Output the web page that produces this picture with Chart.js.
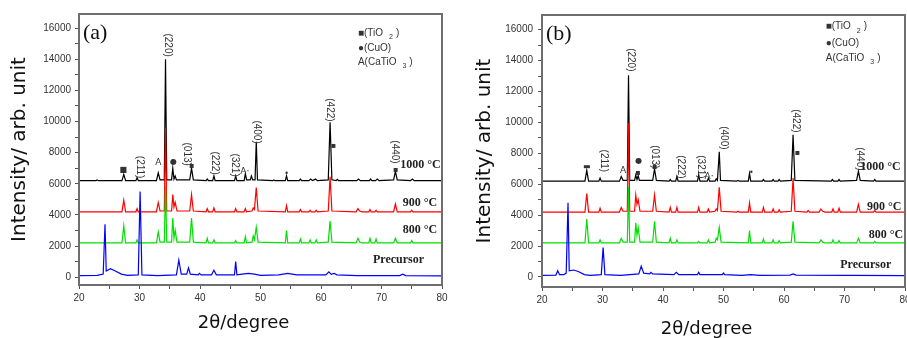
<!DOCTYPE html>
<html>
<head>
<meta charset="utf-8">
<script src="https://cdn.jsdelivr.net/npm/chart.js@4.4.0/dist/chart.umd.min.js"></script>
<style>
  body { margin: 0; background: #fff; width: 907px; height: 338px; overflow: hidden; position: relative; }
  .panel { position: absolute; top: 0; height: 338px; }
  #pa { left: 0; width: 453px; }
  #pb { left: 453px; width: 454px; }
</style>
</head>
<body>
<div class="panel" id="pa"><canvas id="chartA"></canvas></div>
<div class="panel" id="pb"><canvas id="chartB"></canvas></div>
<script>
// 2θ / intensity pairs, panel (a)
const a1000 = [[20,6200],[22.8,6200],[23,6250],[23.2,6200],[27.1,6200],[27.4,6600],[27.7,6200],
  [29.4,6200],[29.6,6400],[29.8,6200],[32.8,6200],[33.1,6700],[33.4,6250],[34.1,6250],[34.3,14000],[34.5,6250],
  [35.3,6250],[35.5,7000],[35.7,6300],[35.9,6500],[36.1,6250],[38.3,6250],[38.6,7000],[38.9,6250],
  [41,6200],[41.2,6300],[41.4,6200],[42.1,6200],[42.3,6500],[42.5,6200],[45.7,6200],[45.9,6500],[46.1,6200],
  [47.3,6200],[47.5,6650],[47.7,6250],[48.3,6250],[48.5,6500],[48.7,6250],[49.1,6250],[49.3,8700],[49.5,6250],
  [52,6200],[52.2,6250],[52.4,6200],[54.1,6200],[54.3,6500],[54.5,6200],[56.4,6200],[56.6,6300],[56.8,6200],
  [58,6200],[58.3,6300],[58.6,6200],[59.1,6300],[59.4,6200],[61.2,6250],[61.5,9950],[61.8,6250],
  [62.5,6200],[62.7,6280],[62.9,6200],[65.9,6200],[66.2,6300],[66.5,6200],[68,6200],[68.2,6300],[68.4,6200],
  [69,6200],[69.3,6300],[69.6,6200],[72,6250],[72.3,6800],[72.6,6250],[74.8,6200],[75.1,6300],[75.4,6200],[80,6200]];
const a900 = [[20,4200],[27.1,4200],[27.4,4950],[27.7,4200],[29.4,4200],[29.6,4400],[29.8,4200],
  [32.8,4200],[33.1,4800],[33.4,4250],[34.1,4250],[34.3,9600],[34.5,4250],[35.3,4250],[35.5,5300],[35.7,4500],
  [35.9,4800],[36.2,4250],[38.3,4250],[38.6,5300],[38.9,4250],[41,4200],[41.2,4400],[41.4,4200],
  [42.1,4200],[42.3,4450],[42.5,4200],[45.7,4200],[45.9,4400],[46.1,4200],[47.3,4200],[47.5,4400],[47.7,4200],
  [48.6,4250],[48.8,4450],[49,4350],[49.3,5750],[49.6,4250],[54.1,4200],[54.3,4600],[54.5,4200],
  [56.4,4200],[56.6,4350],[56.8,4200],[58,4200],[58.2,4300],[58.4,4200],[59,4200],[59.2,4300],[59.4,4200],
  [61.2,4250],[61.5,6450],[61.8,4250],[65.8,4200],[66.1,4400],[66.4,4250],[66.8,4200],
  [67.9,4200],[68.1,4350],[68.3,4200],[68.9,4200],[69.1,4300],[69.3,4200],[72,4200],[72.3,4700],[72.6,4200],
  [74.8,4200],[75,4300],[75.2,4200],[80,4200]];
const a800 = [[20,2200],[27.1,2200],[27.4,3300],[27.7,2200],[29.4,2200],[29.6,2400],[29.8,2200],
  [32.8,2200],[33.1,2900],[33.4,2250],[34.1,2250],[34.3,5850],[34.5,2250],[35.3,2250],[35.5,3800],[35.7,2500],
  [35.9,3000],[36.2,2250],[38.3,2250],[38.6,3800],[38.9,2250],[41,2200],[41.2,2500],[41.4,2200],
  [42.1,2200],[42.3,2400],[42.5,2200],[45.7,2200],[45.9,2350],[46.1,2200],[47.3,2200],[47.5,2600],[47.7,2200],
  [48.6,2250],[48.8,2650],[49,2400],[49.3,3200],[49.6,2250],[54.1,2200],[54.3,3000],[54.5,2200],
  [56.4,2200],[56.6,2450],[56.8,2200],[58,2200],[58.2,2400],[58.4,2200],[59,2200],[59.2,2400],[59.4,2200],
  [61.2,2250],[61.5,3600],[61.8,2250],[65.8,2200],[66.1,2500],[66.4,2250],[66.8,2200],
  [67.9,2200],[68.1,2500],[68.3,2200],[68.9,2200],[69.1,2450],[69.3,2200],[72,2200],[72.3,2500],[72.6,2200],
  [74.8,2200],[75,2350],[75.2,2200],[80,2200]];
const aPre = [[20,100],[23,120],[24,200],[24.3,3400],[24.5,400],[25.2,550],[26,400],[27,200],[28,120],
  [29.8,150],[30.1,5500],[30.4,150],[33,100],[36.1,150],[36.5,1100],[36.9,200],[37.8,200],[38.1,600],[38.4,200],
  [39.7,150],[39.9,250],[40.2,150],[41.9,150],[42.3,450],[42.7,150],[45.7,150],[45.9,1000],[46.1,150],
  [47,200],[48,250],[49,200],[50,120],[53,150],[54.5,250],[56,150],[60.8,150],[61.3,350],[61.7,180],
  [62.2,250],[62.6,150],[66,100],[73,100],[73.5,200],[74,100],[80,80]];

// panel (b)
const b1000 = [[20,6200],[27.1,6200],[27.4,6900],[27.7,6200],[29.4,6200],[29.6,6400],[29.8,6200],
  [32.8,6200],[33.1,6500],[33.4,6250],[34.1,6250],[34.3,13050],[34.5,6250],[35.3,6250],[35.5,6600],[35.7,6300],
  [35.9,6550],[36.1,6250],[38.3,6250],[38.6,7000],[38.9,6250],[41,6200],[41.2,6300],[41.4,6200],
  [42.1,6200],[42.3,6500],[42.5,6200],[45.7,6200],[45.9,6600],[46.1,6200],[47.3,6200],[47.5,6400],[47.7,6200],
  [48.6,6200],[48.8,6350],[49,6250],[49.3,8100],[49.5,6250],[52.2,6200],[52.4,6250],[52.6,6200],
  [54.1,6200],[54.3,6700],[54.5,6200],[56.4,6200],[56.6,6300],[56.8,6200],[58,6200],[58.2,6300],[58.4,6200],
  [59,6200],[59.2,6300],[59.4,6200],[61.2,6250],[61.5,9200],[61.8,6250],[67.8,6200],[68,6300],[68.2,6200],
  [68.9,6200],[69.1,6300],[69.3,6200],[72,6250],[72.3,6850],[72.6,6250],[74.8,6200],[75,6300],[75.2,6200],[80,6200]];
const b900 = [[20,4200],[27.1,4200],[27.4,5400],[27.7,4200],[29.4,4200],[29.6,4450],[29.8,4200],
  [32.8,4200],[33.1,4500],[33.4,4250],[34.1,4250],[34.3,9950],[34.5,4250],[35.3,4250],[35.5,5300],[35.7,4700],
  [35.9,5000],[36.2,4250],[38.3,4250],[38.6,5300],[38.9,4250],[41,4200],[41.2,4500],[41.4,4200],
  [42.1,4200],[42.3,4500],[42.5,4200],[45.7,4200],[45.9,4500],[46.1,4200],[47.3,4200],[47.5,4400],[47.7,4200],
  [48.6,4250],[48.8,4400],[49,4300],[49.3,5800],[49.6,4250],[52.2,4200],[52.4,4250],[52.6,4200],
  [54.1,4200],[54.3,4800],[54.5,4200],[56.4,4200],[56.6,4500],[56.8,4200],[58,4200],[58.2,4400],[58.4,4200],
  [59,4200],[59.2,4350],[59.4,4200],[61.2,4250],[61.5,6400],[61.8,4250],[63.8,4200],[64,4300],[64.2,4200],
  [65.8,4200],[66.1,4400],[66.4,4250],[66.8,4200],[67.9,4200],[68.1,4400],[68.3,4200],[68.9,4200],[69.1,4450],
  [69.3,4200],[72,4200],[72.3,4700],[72.6,4200],[74.8,4200],[75,4300],[75.2,4200],[80,4200]];
const b800 = [[20,2200],[27.1,2200],[27.4,3750],[27.7,2200],[29.4,2200],[29.6,2400],[29.8,2200],
  [32.8,2200],[33.1,2500],[33.4,2250],[34.1,2250],[34.3,5800],[34.5,2250],[35.3,2250],[35.5,3500],[35.7,2700],
  [35.9,3200],[36.2,2250],[38.3,2250],[38.6,3600],[38.9,2250],[41,2200],[41.2,2500],[41.4,2200],
  [42.1,2200],[42.3,2400],[42.5,2200],[45.7,2200],[45.9,2300],[46.1,2200],[47.3,2200],[47.5,2400],[47.7,2200],
  [48.6,2250],[48.8,2500],[49,2400],[49.3,3200],[49.6,2250],[54.1,2200],[54.3,3000],[54.5,2200],
  [56.4,2200],[56.6,2450],[56.8,2200],[58,2200],[58.2,2400],[58.4,2200],[59,2200],[59.2,2350],[59.4,2200],
  [61.2,2250],[61.5,3600],[61.8,2250],[65.8,2200],[66.1,2400],[66.4,2250],[66.8,2200],
  [67.9,2200],[68.1,2400],[68.3,2200],[68.9,2200],[69.1,2350],[69.3,2200],[72,2200],[72.3,2500],[72.6,2200],
  [74.8,2200],[75,2300],[75.2,2200],[80,2200]];
const bPre = [[20,100],[22.3,120],[22.6,400],[22.9,150],[23.6,150],[24,250],[24.3,4800],[24.5,400],[25.2,450],
  [26,350],[27,150],[28,100],[29.8,150],[30.1,1900],[30.4,150],[33,100],[36,200],[36.4,700],[36.8,250],
  [37.8,200],[38,300],[38.3,200],[41.8,150],[42.2,300],[42.6,150],[45.7,150],[45.9,300],[46.1,150],
  [49.8,150],[50,250],[50.2,150],[53,100],[54.5,150],[56,100],[61,120],[61.5,200],[62,120],[80,80]];

const seriesNames = ['1000 °C', '900 °C', '800 °C', 'Precursor'];
const seriesColors = ['#000000', '#ff0000', '#00e000', '#0000ff'];
const xTickMarks = [20, 25, 30, 35, 40, 45, 50, 55, 60, 65, 70, 75, 80];
const xTickLabels = [20, 30, 40, 50, 60, 70, 80];
const yTickMarks = [0, 1000, 2000, 3000, 4000, 5000, 6000, 7000, 8000, 9000, 10000,
  11000, 12000, 13000, 14000, 15000, 16000];
const yTickLabels = [0, 2000, 4000, 6000, 8000, 10000, 12000, 14000, 16000];

// reflection labels [2θ, intensity, text]
const hklA = [[34.6,14900,'(220)'],[30.1,7070,'(211)'],[37.8,7900,'(013)'],[42.5,7330,'(222)'],
  [45.8,7200,'(321)'],[49.4,9320,'(400)'],[61.5,10740,'(422)'],[72.2,8040,'(440)']];
const hklB = [[34.6,14050,'(220)'],[30.2,7510,'(211)'],[38.7,7770,'(013)'],[42.9,7120,'(222)'],
  [46.2,7120,'(321)'],[50.0,9000,'(400)'],[61.9,10100,'(422)'],[72.6,7640,'(440)']];
// phase marks [2θ, intensity, symbol]
const marksA = [[27.3,6880,'■'],[33.1,7330,'A'],[35.6,7400,'●'],[38.6,7150,'▪'],[47.4,6750,'A·'],
  [54.3,6620,'•'],[62.0,8430,'▪'],[72.3,6900,'▪']];
const marksB = [[27.4,7140,'▬'],[33.4,6880,'A'],[36.0,7510,'●'],[35.8,6750,'▪'],[38.6,7150,'▪'],
  [47.6,6500,'A·'],[54.6,6740,'•'],[62.2,8030,'▪']];
// series labels [2θ, intensity]
const tagsA = [[73.1,7200],[73.5,4760],[73.5,3020],[68.6,1090]];
const tagsB = [[72.6,7140],[73.7,4550],[74.0,2720],[69.3,780]];
const legendA = [66.1, [15690, 14730, 13830]];
const legendB = [66.9, [16200, 15140, 14160]];

const overlay = {
  id: 'overlay',
  afterDatasetsDraw(chart, args, o) {
    const { ctx, chartArea: a, scales: { x, y } } = chart;
    ctx.save();
    ctx.strokeStyle = '#6e6e6e';
    ctx.lineWidth = 2;
    ctx.strokeRect(a.left, a.top, a.right - a.left, a.bottom - a.top);

    ctx.fillStyle = '#333';
    ctx.textBaseline = 'middle';
    ctx.textAlign = 'center';
    ctx.font = '10px "Liberation Sans"';
    o.hkl.forEach(([v, w, t]) => {
      ctx.save();
      ctx.translate(x.getPixelForValue(v), y.getPixelForValue(w));
      ctx.rotate(Math.PI / 2);
      ctx.fillText(t, 0, 0);
      ctx.restore();
    });
    o.marks.forEach(([v, w, t]) => {
      ctx.font = (t.startsWith('A') ? '9px' : '8px') + ' "DejaVu Sans"';
      ctx.fillText(t, x.getPixelForValue(v), y.getPixelForValue(w));
    });

    ctx.textAlign = 'left';
    ctx.fillStyle = '#222';
    ctx.font = 'bold 12px "Liberation Serif"';
    o.tags.forEach(([v, w], i) => ctx.fillText(seriesNames[i], x.getPixelForValue(v), y.getPixelForValue(w)));

    // phase legend
    const lx = x.getPixelForValue(o.legend[0]);
    const rows = [['■(TiO', '2'], ['●(CuO)', ''], ['A(CaTiO', '3']];
    rows.forEach(([main, sub], i) => {
      const ly = y.getPixelForValue(o.legend[1][i]);
      ctx.font = '10px "Liberation Sans"';
      ctx.fillStyle = '#333';
      ctx.fillText(main, lx, ly);
      if (sub) {
        let px = lx + ctx.measureText(main).width + 6;
        ctx.font = '7px "Liberation Sans"';
        ctx.fillText(sub, px, ly + 4);
        px += ctx.measureText(sub).width + 3;
        ctx.font = '10px "Liberation Sans"';
        ctx.fillText(')', px, ly);
      }
    });

    ctx.fillStyle = '#111';
    ctx.font = '22px "Liberation Serif"';
    ctx.fillText(o.letter, a.left + 4, a.top + 19);

    ctx.textAlign = 'center';
    ctx.font = '18px "DejaVu Sans"';
    ctx.fillText('2θ/degree', (a.left + a.right) / 2 + o.xTitleShift, o.xTitleY);
    ctx.restore();
  }
};

function makePanel(id, data, g) {
  const datasets = data.map((pts, i) => ({
    label: seriesNames[i],
    data: pts.map(([v, w]) => ({ x: v, y: w })),
    borderColor: seriesColors[i],
    borderWidth: 1.2,
    pointRadius: 0,
    tension: 0,
    order: 4 - i
  }));
  return new Chart(document.getElementById(id), {
    type: 'line',
    data: { datasets },
    plugins: [overlay],
    options: {
      responsive: true,
      maintainAspectRatio: false,
      animation: false,
      layout: { padding: { top: g.top, right: g.right, left: 0, bottom: 0 } },
      plugins: {
        legend: { display: false },
        tooltip: { enabled: false },
        overlay: g
      },
      scales: {
        x: {
          type: 'linear', min: 20, max: 80,
          border: { display: false },
          grid: { drawOnChartArea: false, tickLength: 4, color: '#555' },
          afterBuildTicks: s => { s.ticks = xTickMarks.map(v => ({ value: v })); },
          ticks: {
            autoSkip: false, maxRotation: 0, padding: 3,
            color: '#333', font: { family: 'Liberation Sans', size: 10 },
            callback: v => xTickLabels.includes(v) ? String(v) : ''
          },
          afterFit: s => { s.height = g.axisH; s.paddingLeft = 0; s.paddingRight = 0; }
        },
        y: {
          type: 'linear', min: g.yMin, max: g.yMax,
          border: { display: false },
          grid: { drawOnChartArea: false, tickLength: 4, color: '#555' },
          afterBuildTicks: s => { s.ticks = yTickMarks.map(v => ({ value: v })); },
          ticks: {
            autoSkip: false, padding: g.tickPad,
            color: '#333', font: { family: 'Liberation Sans', size: 10 },
            callback: v => yTickLabels.includes(v) ? String(v) : ''
          },
          title: {
            display: true, text: 'Intensity/ arb. unit', color: '#111',
            font: { family: 'DejaVu Sans', size: 20 }, padding: { top: g.yTitlePad, bottom: 0 }
          },
          afterFit: s => { s.width = g.axisW; s.paddingTop = 0; s.paddingBottom = 0; }
        }
      }
    }
  });
}

makePanel('chartA', [a1000, a900, a800, aPre], {
  top: 14, right: 11, axisW: 79, axisH: 53, yMin: -500, yMax: 16900, tickPad: 4, yTitlePad: 8,
  xTitleY: 323, xTitleShift: -17, letter: '(a)',
  hkl: hklA, marks: marksA, tags: tagsA, legend: legendA
});
makePanel('chartB', [b1000, b900, b800, bPre], {
  top: 15, right: 2, axisW: 89, axisH: 51, yMin: -650, yMax: 16950, tickPad: 5, yTitlePad: 20,
  xTitleY: 329, xTitleShift: -17, letter: '(b)',
  hkl: hklB, marks: marksB, tags: tagsB, legend: legendB
});
</script>
</body>
</html>
